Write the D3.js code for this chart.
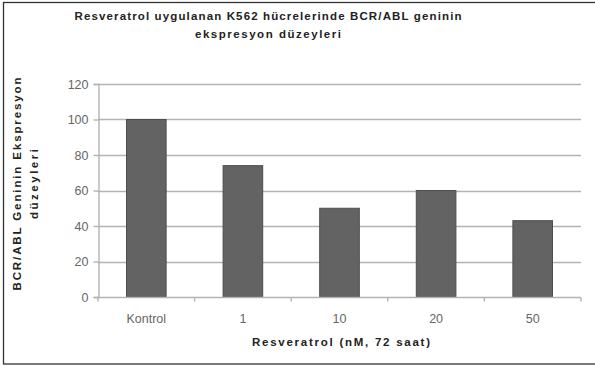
<!DOCTYPE html>
<html>
<head>
<meta charset="utf-8">
<script src="https://cdn.jsdelivr.net/npm/d3@7"></script>
<style>
  html, body { margin: 0; padding: 0; background: #fff; }
  svg { display: block; font-family: "Liberation Sans", Arial, sans-serif; }
</style>
</head>
<body>
<svg id="chart" width="595" height="366"></svg>
<script>
// Chart data
const categories = ["Kontrol", "1", "10", "20", "50"];
const values = [100, 74, 50, 60, 43];
const yTicks = [0, 20, 40, 60, 80, 100, 120];
const titleLines = ["Resveratrol uygulanan K562 hücrelerinde BCR/ABL geninin", "ekspresyon düzeyleri"];
const yTitleLines = ["BCR/ABL Geninin Ekspresyon", "düzeyleri"];
const xTitle = "Resveratrol (nM, 72 saat)";

const svg = d3.select("#chart");

// Outer frame
svg.append("rect")
  .attr("x", 3.5).attr("y", 2.5)
  .attr("width", 600).attr("height", 361.5)
  .attr("fill", "none").attr("stroke", "#333").attr("stroke-width", 1.3);

const plot = { left: 98, right: 581, top: 84, bottom: 297 };

const x = d3.scaleBand().domain(categories).range([plot.left, plot.right]).padding(0);
const y = d3.scaleLinear().domain([0, 120]).range([plot.bottom, plot.top]);

// Horizontal gridlines
svg.append("g").selectAll("line").data(yTicks.filter(d => d > 0)).join("line")
  .attr("x1", plot.left).attr("x2", plot.right)
  .attr("y1", d => Math.round(y(d)) + 0.5).attr("y2", d => Math.round(y(d)) + 0.5)
  .attr("stroke", "#b3b3b3").attr("stroke-width", 1.4);

// Y axis
const yAxis = svg.append("g")
  .attr("transform", `translate(${plot.left + 0.5},0)`)
  .call(d3.axisLeft(y).tickValues(yTicks).tickSize(5).tickPadding(5));
yAxis.select(".domain").attr("stroke", "#b3b3b3").attr("stroke-width", 1.4);
yAxis.selectAll(".tick line").attr("stroke", "#b3b3b3").attr("stroke-width", 1.4);
yAxis.selectAll(".tick text")
  .attr("fill", "#666").style("font-size", "12.5px").style("font-family", "Liberation Sans, Arial, sans-serif");

// Bars
const barW = x.bandwidth() * 0.41;
svg.append("g").selectAll("rect").data(values).join("rect")
  .attr("x", (d, i) => x(categories[i]) + (x.bandwidth() - barW) / 2)
  .attr("y", d => y(d))
  .attr("width", barW)
  .attr("height", d => plot.bottom - y(d))
  .attr("fill", "#636363")
  .attr("stroke", "#4d4d4d").attr("stroke-width", 1);

// X axis with ticks at category boundaries
const xg = svg.append("g").attr("transform", `translate(0,${plot.bottom + 0.5})`);
xg.append("line")
  .attr("x1", plot.left).attr("x2", plot.right)
  .attr("stroke", "#b3b3b3").attr("stroke-width", 1.4);
const boundaries = categories.map(c => x(c)).concat([plot.right]);
xg.selectAll("line.tk").data(boundaries).join("line").attr("class", "tk")
  .attr("x1", d => d).attr("x2", d => d).attr("y1", 0).attr("y2", 4)
  .attr("stroke", "#b3b3b3").attr("stroke-width", 1.4);
xg.selectAll("text").data(categories).join("text")
  .attr("x", d => x(d) + x.bandwidth() / 2)
  .attr("y", 25)
  .attr("text-anchor", "middle")
  .attr("fill", "#666").style("font-size", "12.5px")
  .text(d => d);

// Bold label helper: fixed font, stretched to the given width
function boldText(sel, width) {
  sel.attr("text-anchor", "middle")
    .attr("fill", "#222").style("font-size", "11.5px").style("font-weight", "bold")
    .attr("textLength", width).attr("lengthAdjust", "spacing");
}

// Title
const titleWidths = [387, 146];
svg.append("g").selectAll("text").data(titleLines).join("text")
  .attr("x", 268).attr("y", (d, i) => 20 + i * 18)
  .each(function(d, i) { boldText(d3.select(this), titleWidths[i]); })
  .text(d => d);

// X axis title
svg.append("text")
  .attr("x", 341).attr("y", 346)
  .call(boldText, 178)
  .text(xTitle);

// Y axis title (rotated, two lines)
const yTitleWidths = [213, 70];
svg.append("g").selectAll("text").data(yTitleLines).join("text")
  .attr("transform", (d, i) => `translate(${21 + i * 17},184) rotate(-90)`)
  .each(function(d, i) { boldText(d3.select(this), yTitleWidths[i]); })
  .text(d => d);
</script>
</body>
</html>
